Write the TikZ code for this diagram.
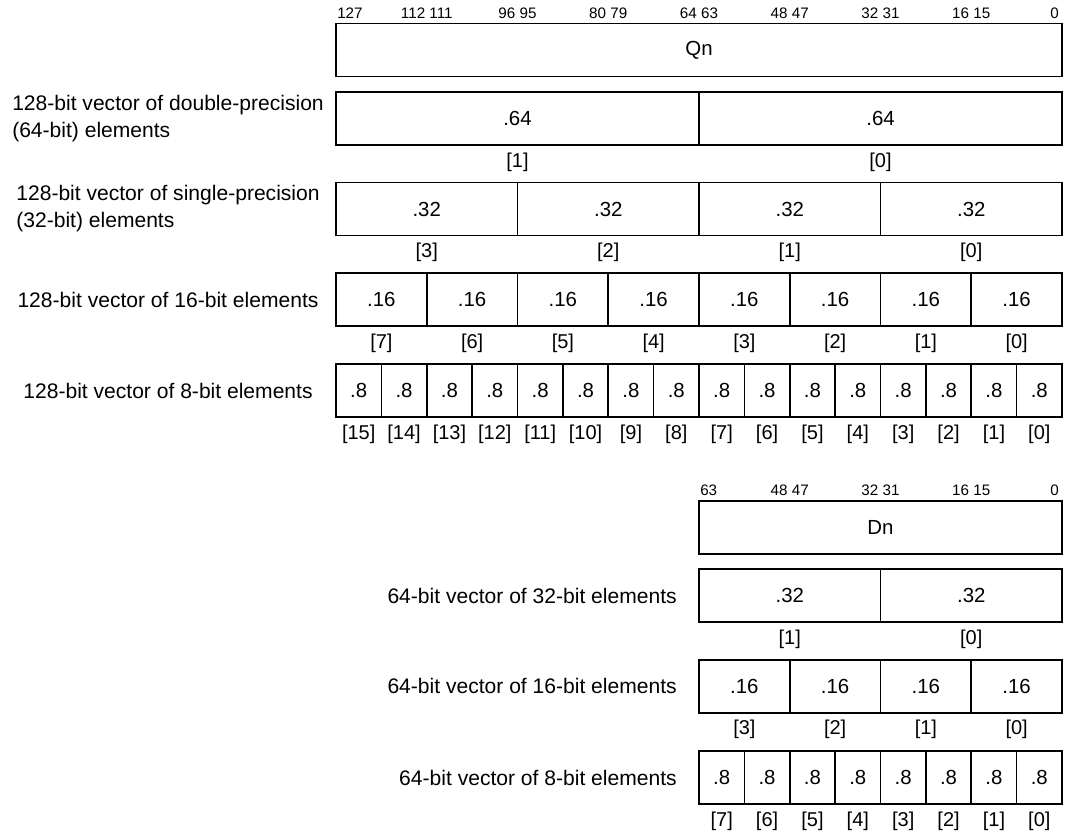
\documentclass[tikz,border=0pt]{standalone}
\usepackage{fontspec}
\setmainfont{Liberation Sans}

\tikzset{
  cell/.style={draw, line width=1.2pt, minimum height=39.75pt, inner sep=0pt, font=\fontsize{15.3}{18}\selectfont},
  idx/.style={inner sep=0pt, font=\fontsize{15}{18}\selectfont},
  bitno/.style={inner sep=0pt, font=\fontsize{11.4}{13}\selectfont},
  rowlabel/.style={inner sep=0pt, align=left, font=\fontsize{15.8}{20.25}\selectfont},
}

\begin{document}
\begin{tikzpicture}[x=0.75pt,y=0.75pt,yscale=-1,xscale=1]
\useasboundingbox (0,0) rectangle (1070,832);

%%%% 128-bit register Qn
% bit numbers
\node[bitno, anchor=west] (qb127) at (337,13) {127};
\node[bitno] (qb112) at (426.75,13) {112 111};
\node[bitno] (qb96) at (517.5,13) {96 95};
\node[bitno] (qb80) at (608.25,13) {80 79};
\node[bitno] (qb64) at (699,13) {64 63};
\node[bitno] (qb48) at (789.75,13) {48 47};
\node[bitno] (qb32) at (880.5,13) {32 31};
\node[bitno] (qb16) at (971.25,13) {16 15};
\node[bitno, anchor=east] (qb0) at (1059,13) {0};
\node[cell, minimum width=544.5pt] (qn) at (699,50) {Qn};

% .64 elements
\node[rowlabel] (lq64) at (168,118.25) {128-bit vector of double-precision\\(64-bit) elements};
\foreach \i in {0,1} {
  \pgfmathtruncatemacro{\n}{1-\i}
  \node[cell, minimum width=272.25pt] (q64c\n) at (517.5+363*\i,118.25) {.64};
  \node[idx] (q64i\n) at (517.5+363*\i,162) {[\n]};
}

% .32 elements
\node[rowlabel] (lq32) at (168,209) {128-bit vector of single-precision\\(32-bit) elements};
\foreach \i in {0,...,3} {
  \pgfmathtruncatemacro{\n}{3-\i}
  \node[cell, minimum width=136.125pt] (q32c\n) at (426.75+181.5*\i,209) {.32};
  \node[idx] (q32i\n) at (426.75+181.5*\i,252.5) {[\n]};
}

% .16 elements
\node[rowlabel] (lq16) at (168,299.75) {128-bit vector of 16-bit elements};
\foreach \i in {0,...,7} {
  \pgfmathtruncatemacro{\n}{7-\i}
  \node[cell, minimum width=68.0625pt] (q16c\n) at (381.375+90.75*\i,299.75) {.16};
  \node[idx] (q16i\n) at (381.375+90.75*\i,343) {[\n]};
}

% .8 elements
\node[rowlabel] (lq8) at (168,390.5) {128-bit vector of 8-bit elements};
\foreach \i in {0,...,15} {
  \pgfmathtruncatemacro{\n}{15-\i}
  \node[cell, minimum width=34.03pt] (q8c\n) at (358.6875+45.375*\i,390.5) {.8};
  \node[idx] (q8i\n) at (358.6875+45.375*\i,434) {[\n]};
}

%%%% 64-bit register Dn
% bit numbers
\node[bitno, anchor=west] (db63) at (700,490) {63};
\node[bitno] (db48) at (789.75,490) {48 47};
\node[bitno] (db32) at (880.5,490) {32 31};
\node[bitno] (db16) at (971.25,490) {16 15};
\node[bitno, anchor=east] (db0) at (1059,490) {0};
\node[cell, minimum width=272.25pt] (dn) at (880.5,527.5) {Dn};

% .32 elements
\node[rowlabel, anchor=east] (ld32) at (677,595.5) {64-bit vector of 32-bit elements};
\foreach \i in {0,1} {
  \pgfmathtruncatemacro{\n}{1-\i}
  \node[cell, minimum width=136.125pt] (d32c\n) at (789.75+181.5*\i,595.5) {.32};
  \node[idx] (d32i\n) at (789.75+181.5*\i,639) {[\n]};
}

% .16 elements
\node[rowlabel, anchor=east] (ld16) at (677,686.25) {64-bit vector of 16-bit elements};
\foreach \i in {0,...,3} {
  \pgfmathtruncatemacro{\n}{3-\i}
  \node[cell, minimum width=68.0625pt] (d16c\n) at (744.375+90.75*\i,686.25) {.16};
  \node[idx] (d16i\n) at (744.375+90.75*\i,729.5) {[\n]};
}

% .8 elements
\node[rowlabel, anchor=east] (ld8) at (677,777.5) {64-bit vector of 8-bit elements};
\foreach \i in {0,...,7} {
  \pgfmathtruncatemacro{\n}{7-\i}
  \node[cell, minimum width=34.03pt] (d8c\n) at (721.6875+45.375*\i,777.5) {.8};
  \node[idx] (d8i\n) at (721.6875+45.375*\i,821) {[\n]};
}

\end{tikzpicture}
\end{document}
